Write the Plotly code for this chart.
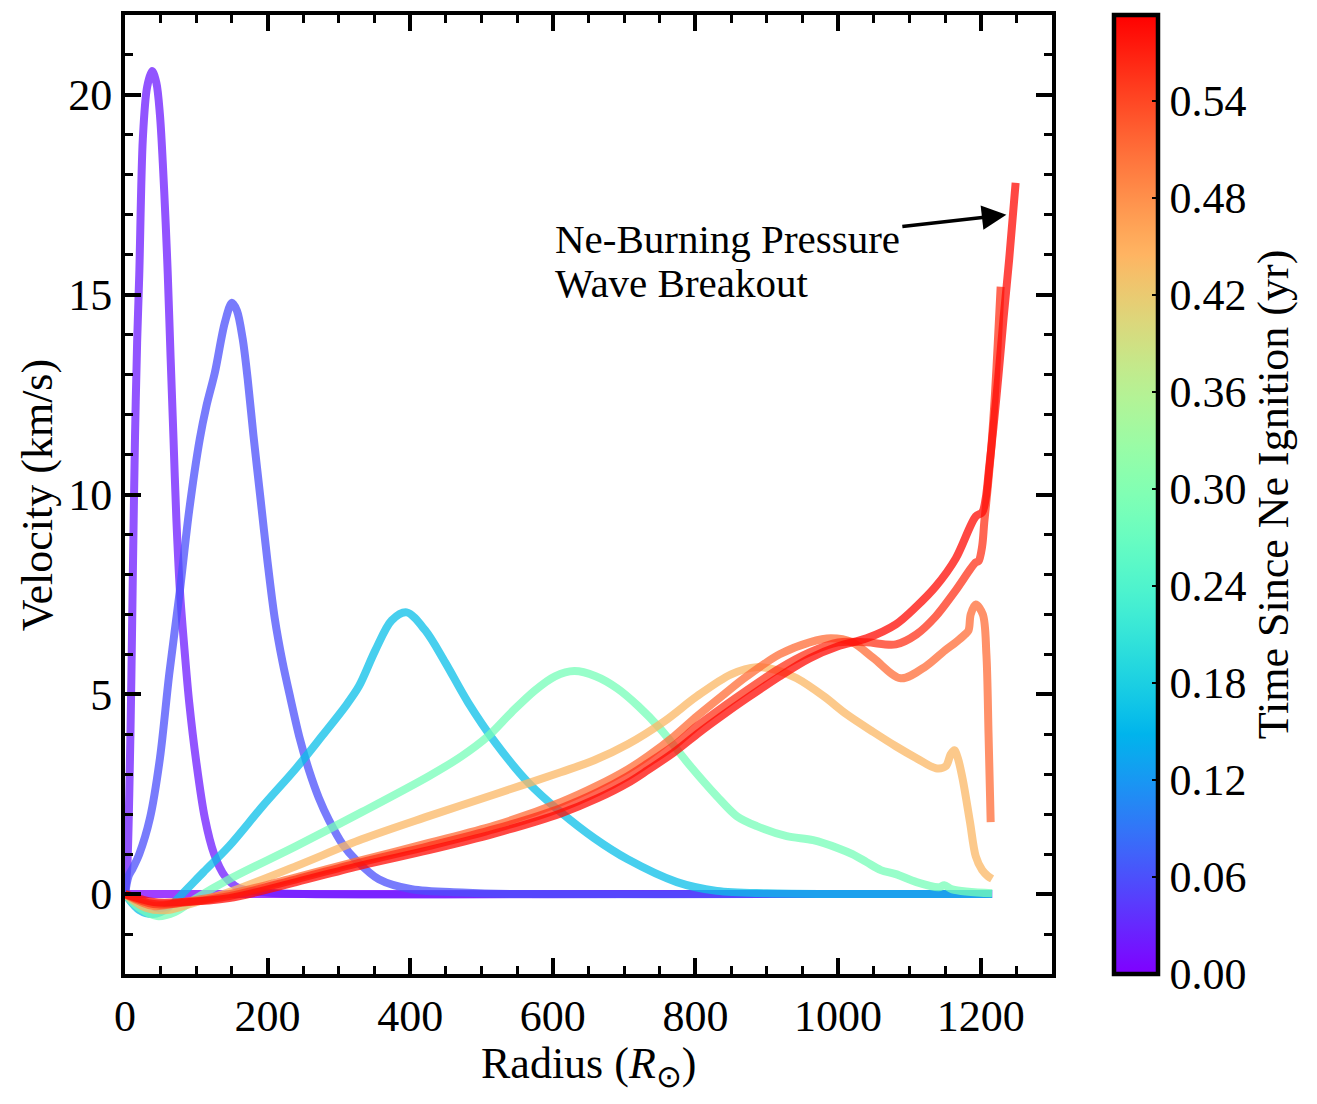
import numpy as np
import plotly.graph_objects as go
from plotly.colors import sample_colorscale

# ---------------- data ----------------
t_max = 0.593
times = [0.0, 0.02, 0.06, 0.16, 0.285, 0.44, 0.51, 0.555, 0.585]

r_0 = [0, 600, 1216]
v_0 = [0, 0, 0]

r_1 = [0, 3, 6, 9, 11, 14, 17, 20, 25, 31, 38, 44, 49, 53, 57, 60, 64, 68, 72, 77, 84, 90, 100, 112, 125, 140, 160, 200, 250, 700, 1216]
v_1 = [0, 0.6, 2.5, 5.5, 8.0, 11.4, 13.8, 15.5, 18.9, 20.2, 20.6, 20.3, 19.5, 18.3, 16.8, 15.5, 13.4, 11.4, 9.4, 7.6, 6.0, 4.8, 3.3, 1.9, 1.0, 0.45, 0.15, 0.04, 0.0, 0.0, 0.0]

r_2 = [0, 5, 11, 20, 35, 49, 62, 77, 90, 105, 114, 126, 140, 150, 157, 165, 172, 180, 190, 200, 210, 221, 232, 245, 258, 272, 286, 305, 324, 356, 402, 472, 550, 900, 1216]
v_2 = [0, 0.45, 0.65, 1.0, 1.9, 3.4, 5.5, 7.6, 9.6, 11.4, 12.2, 13.05, 14.3, 14.8, 14.6, 13.9, 12.9, 11.5, 9.9, 8.3, 6.9, 5.8, 4.9, 3.9, 3.1, 2.4, 1.85, 1.25, 0.85, 0.37, 0.12, 0.04, 0.0, 0.0, 0.0]

r_3 = [0, 20, 40, 60, 80, 110, 146, 193, 240, 276, 309, 328, 351, 374, 395, 421, 449, 481, 519, 565, 611, 658, 705, 774, 830, 900, 1000, 1216]
v_3 = [0, -0.4, -0.5, -0.35, 0.0, 0.55, 1.2, 2.2, 3.15, 3.95, 4.7, 5.2, 6.1, 6.85, 7.05, 6.6, 5.8, 4.8, 3.8, 2.8, 2.05, 1.4, 0.87, 0.3, 0.08, 0.02, 0.0, 0.0]

r_4 = [0, 20, 45, 70, 100, 146, 240, 332, 426, 472, 509, 542, 575, 603, 630, 660, 690, 720, 750, 793, 830, 858, 886, 928, 965, 1000, 1020, 1040, 1060, 1081, 1110, 1141, 1149, 1160, 1216]
v_4 = [0, -0.35, -0.55, -0.45, -0.1, 0.37, 1.2, 2.05, 2.95, 3.45, 3.95, 4.55, 5.1, 5.45, 5.58, 5.45, 5.15, 4.7, 4.15, 3.2, 2.45, 1.95, 1.7, 1.45, 1.35, 1.15, 1.0, 0.8, 0.6, 0.5, 0.3, 0.17, 0.22, 0.12, 0.02]

r_5 = [0, 30, 60, 100, 146, 240, 332, 426, 519, 611, 658, 705, 756, 802, 850, 886, 915, 942, 980, 1012, 1050, 1081, 1110, 1137, 1151, 1158, 1163, 1168, 1175, 1185, 1193, 1202, 1210, 1216]
v_5 = [0, -0.35, -0.4, -0.2, 0.05, 0.7, 1.37, 1.95, 2.5, 3.05, 3.35, 3.75, 4.32, 4.95, 5.5, 5.68, 5.6, 5.4, 4.95, 4.5, 4.05, 3.7, 3.4, 3.15, 3.2, 3.5, 3.6, 3.4, 2.85, 1.8, 0.95, 0.6, 0.45, 0.38]

r_6 = [0, 40, 80, 146, 240, 332, 426, 519, 611, 663, 705, 733, 770, 802, 840, 872, 918, 960, 990, 1020, 1050, 1088, 1123, 1150, 1165, 1178, 1183, 1186, 1193, 1203, 1208, 1211, 1214]
v_6 = [0, -0.3, -0.2, 0.0, 0.42, 0.85, 1.28, 1.72, 2.3, 2.72, 3.12, 3.45, 3.95, 4.45, 5.0, 5.45, 6.0, 6.3, 6.4, 6.3, 5.9, 5.4, 5.7, 6.1, 6.3, 6.5, 6.6, 7.0, 7.25, 7.0, 6.0, 4.0, 1.8]

r_7 = [0, 40, 80, 146, 240, 332, 426, 519, 611, 663, 705, 733, 770, 802, 840, 872, 918, 960, 1000, 1040, 1081, 1110, 1137, 1165, 1193, 1197, 1202, 1205, 1210, 1215, 1220, 1224, 1228]
v_7 = [0, -0.25, -0.22, -0.05, 0.37, 0.8, 1.2, 1.63, 2.15, 2.55, 2.95, 3.27, 3.72, 4.2, 4.7, 5.1, 5.65, 6.05, 6.3, 6.3, 6.25, 6.5, 6.95, 7.6, 8.3, 8.33, 8.7, 9.3, 10.2, 11.2, 12.5, 13.8, 15.2]

r_8 = [0, 40, 80, 146, 240, 332, 426, 519, 611, 663, 705, 733, 770, 802, 840, 872, 918, 960, 1000, 1040, 1081, 1110, 1137, 1165, 1193, 1202, 1207, 1212, 1218, 1225, 1232, 1240, 1249]
v_8 = [0, -0.2, -0.2, -0.1, 0.3, 0.72, 1.1, 1.52, 2.02, 2.4, 2.78, 3.1, 3.55, 4.0, 4.5, 4.9, 5.45, 5.9, 6.2, 6.4, 6.75, 7.2, 7.7, 8.4, 9.45, 9.55, 9.9, 10.7, 11.7, 13.0, 14.4, 15.9, 17.8]

radii = [r_0, r_1, r_2, r_3, r_4, r_5, r_6, r_7, r_8]
vels = [v_0, v_1, v_2, v_3, v_4, v_5, v_6, v_7, v_8]

x_ticks = [0, 200, 400, 600, 800, 1000, 1200]
y_ticks = [0, 5, 10, 15, 20]
cbar_ticks = [0.00, 0.06, 0.12, 0.18, 0.24, 0.30, 0.36, 0.42, 0.48, 0.54]

# ---------------- rainbow colour scale ----------------
def rainbow(x):
    r = min(max(abs(2 * x - 0.5), 0), 1)
    g = min(max(np.sin(np.pi * x), 0), 1)
    b = min(max(np.cos(np.pi * x / 2), 0), 1)
    return f"rgb({int(round(r*255))},{int(round(g*255))},{int(round(b*255))})"

stops = np.linspace(0, 1, 41)
rainbow_scale = [[float(s), rainbow(s)] for s in stops]

FONT = "Liberation Serif, Times New Roman, serif"

fig = go.Figure()
for t, r, v in zip(times, radii, vels):
    col = sample_colorscale(rainbow_scale, [t / t_max])[0]
    fig.add_trace(go.Scatter(
        x=r, y=v, mode="lines",
        line=dict(color=col, width=8, shape="spline", smoothing=0.9),
        opacity=0.75, showlegend=False, hoverinfo="skip"))

# dummy trace for colour bar
fig.add_trace(go.Scatter(
    x=[None], y=[None], mode="markers", showlegend=False,
    marker=dict(color=[0], cmin=0, cmax=t_max, colorscale=rainbow_scale,
                showscale=True,
                colorbar=dict(
                    x=1.067, xanchor="left", xpad=0, ypad=0,
                    y=0.5, yanchor="middle", len=1.0, lenmode="fraction",
                    thickness=44, outlinewidth=4.5, outlinecolor="black",
                    ticks="inside", ticklen=8, tickwidth=2, tickcolor="black",
                    tickvals=cbar_ticks,
                    ticktext=[f"{c:.2f}" for c in cbar_ticks],
                    tickfont=dict(family=FONT, size=44, color="black"),
                    title=dict(text="Time Since Ne Ignition (yr)", side="right",
                               font=dict(family=FONT, size=44, color="black")),
                ))))

axis_common = dict(
    showgrid=False, zeroline=False, showline=True, linewidth=4, linecolor="black",
    mirror="ticks", ticks="inside", ticklen=16, tickwidth=3.5, tickcolor="black",
    tickfont=dict(family=FONT, size=44, color="black"),
)

fig.update_layout(
    width=1317, height=1104,
    margin=dict(l=125, r=265, t=15, b=130),
    paper_bgcolor="white", plot_bgcolor="white",
    xaxis=dict(range=[0, 1300], tickvals=x_ticks,
               minor=dict(dtick=50, ticks="inside", ticklen=8, tickwidth=2.5, tickcolor="black"),
               **axis_common),
    yaxis=dict(range=[-2, 22], tickvals=y_ticks,
               minor=dict(dtick=1, ticks="inside", ticklen=8, tickwidth=2.5, tickcolor="black"),
               **axis_common),
    annotations=[
        dict(x=0.5, y=-0.096, xref="paper", yref="paper",
             text="Radius (<i>R</i><sub>⊙</sub>)", showarrow=False,
             xanchor="center", yanchor="middle",
             font=dict(family=FONT, size=44, color="black")),
        dict(x=-0.094, y=0.5, xref="paper", yref="paper",
             text="Velocity (km/s)", showarrow=False, textangle=-90,
             xanchor="center", yanchor="middle",
             font=dict(family=FONT, size=44, color="black")),
        dict(x=600, y=16.4, xref="x", yref="y", text="Ne-Burning Pressure",
             showarrow=False, xanchor="left", yanchor="middle",
             font=dict(family=FONT, size=41, color="black")),
        dict(x=600, y=15.3, xref="x", yref="y", text="Wave Breakout",
             showarrow=False, xanchor="left", yanchor="middle",
             font=dict(family=FONT, size=41, color="black")),
        dict(x=1236, y=17.0, ax=1088, ay=16.7, xref="x", yref="y", axref="x", ayref="y",
             text="", showarrow=True, arrowhead=2, arrowsize=1.4, arrowwidth=3.5,
             arrowcolor="black"),
    ],
)

fig.write_html("out.html")
